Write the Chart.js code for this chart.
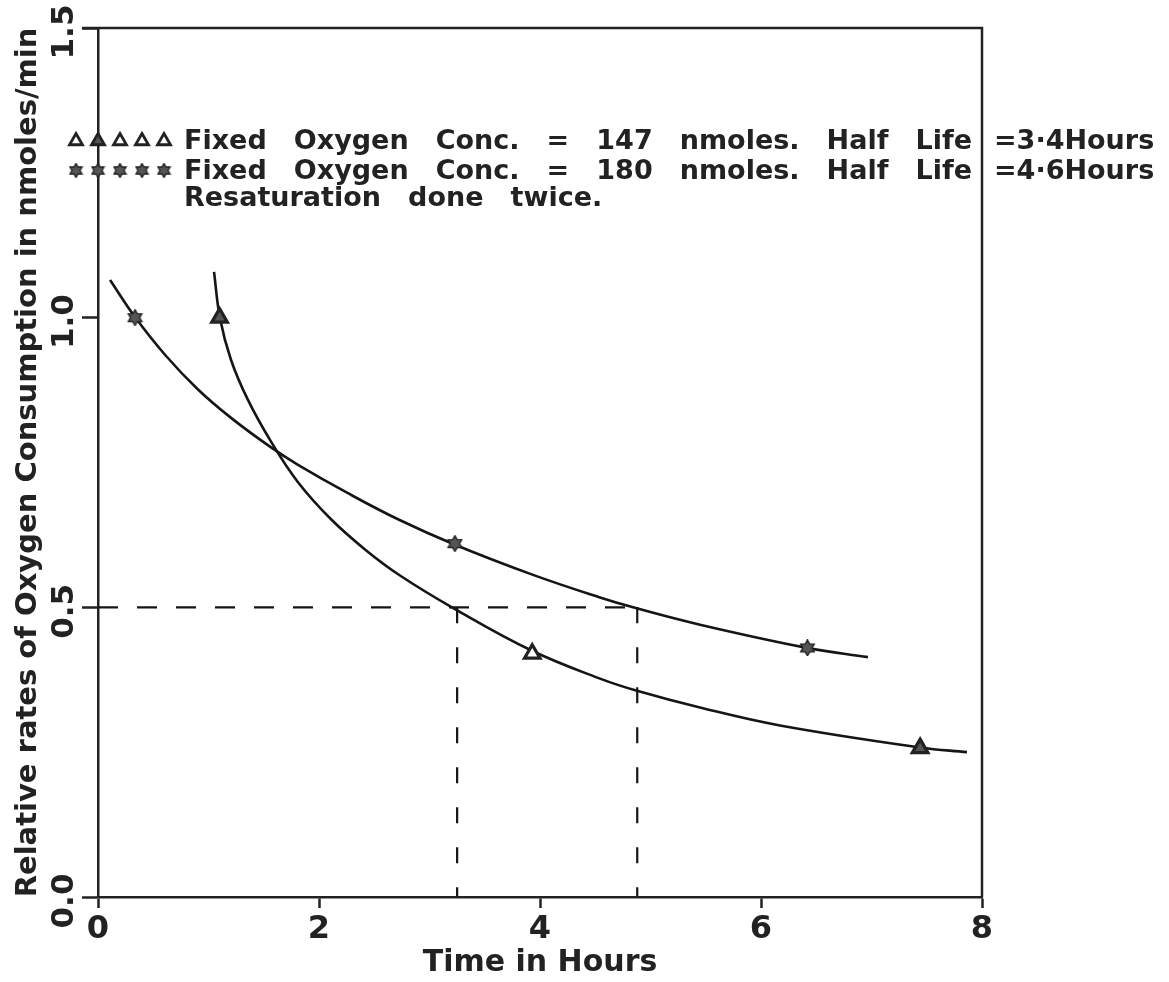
<!DOCTYPE html>
<html><head><meta charset="utf-8">
<script src="https://cdn.jsdelivr.net/npm/chart.js@4/dist/chart.umd.min.js"></script>
<style>html,body{margin:0;padding:0;background:#fff}canvas{display:block}</style>
</head><body>
<canvas id="c" width="1169" height="982"></canvas>
<script>
// ---- data ----
const xTickValues = [0, 2, 4, 6, 8];
const yTickValues = [0, 0.5, 1.0, 1.5];
const yTickLabels = ['0.0', '0.5', '1.0', '1.5'];

// measured points (triangles: 147 nmoles; stars: 180 nmoles)
const triX = [1.10, 3.93, 7.44];
const triY = [1.00, 0.42, 0.257];
const starX = [0.335, 3.23, 6.42];
const starY = [1.00, 0.61, 0.43];

// hand-drawn fitted curves
const triFitX = [1.050, 1.104, 1.204, 1.357, 1.566, 1.810, 2.109, 2.416, 2.733, 3.231, 3.928, 4.543, 4.878, 5.448, 6.172, 7.439, 7.864];
const triFitY = [1.079, 0.999, 0.927, 0.858, 0.786, 0.716, 0.652, 0.600, 0.555, 0.497, 0.425, 0.377, 0.356, 0.327, 0.296, 0.258, 0.250];
const starFitX = [0.109, 0.335, 0.606, 0.905, 1.204, 1.566, 1.810, 2.262, 2.715, 3.231, 3.937, 4.543, 4.842, 5.448, 6.416, 6.968];
const starFitY = [1.065, 1.001, 0.936, 0.876, 0.827, 0.776, 0.746, 0.697, 0.652, 0.608, 0.556, 0.517, 0.500, 0.470, 0.430, 0.414];

// half-life construction lines
const halfX = [0, 4.88];
const halfY = [0.5, 0.5];
const drop1X = [3.25, 3.25];
const drop2X = [4.88, 4.88];
const dropY = [0.5, 0];

const legendWords1 = ['Fixed', 'Oxygen', 'Conc.', '=', '147', 'nmoles.', 'Half', 'Life'];
const legendWords2 = ['Fixed', 'Oxygen', 'Conc.', '=', '180', 'nmoles.', 'Half', 'Life'];
const legendSuffix1 = '=3·4Hours';
const legendSuffix2 = '=4·6Hours';
const legendWords3 = ['Resaturation', 'done', 'twice.'];

const xTitle = 'Time in Hours';
const yTitle = 'Relative rates of Oxygen Consumption in nmoles/min';

// ---- helpers ----
const pts = (xs, ys) => xs.map((v, i) => ({x: v, y: ys[i]}));
const INK = '#222';
const FONT = '"DejaVu Sans", sans-serif';

function makeStar(size) {
  const c = document.createElement('canvas');
  c.width = c.height = size;
  const g = c.getContext('2d');
  g.translate(size / 2, size / 2);
  g.beginPath();
  for (let i = 0; i < 12; i++) {
    const r = i % 2 ? size * 0.27 : size * 0.46;
    const a = -Math.PI / 2 + i * Math.PI / 6;
    g.lineTo(r * Math.cos(a), r * Math.sin(a));
  }
  g.closePath();
  g.fillStyle = '#555';
  g.fill();
  g.lineWidth = 1.4;
  g.strokeStyle = '#222';
  g.stroke();
  return c;
}
const starImg = makeStar(17);
const starImgSmall = makeStar(15);

function drawTri(ctx, cx, cy, r, fill) {
  ctx.beginPath();
  for (let i = 0; i < 3; i++) {
    const a = -Math.PI / 2 + i * 2 * Math.PI / 3;
    const px = cx + r * Math.cos(a), py = cy + r * Math.sin(a);
    if (i === 0) ctx.moveTo(px, py); else ctx.lineTo(px, py);
  }
  ctx.closePath();
  ctx.fillStyle = fill; ctx.fill();
  ctx.lineWidth = 2.8; ctx.strokeStyle = '#222'; ctx.stroke();
}

const decor = {
  id: 'decor',
  afterDraw(chart) {
    const {ctx, chartArea: a, scales: {y}} = chart;
    ctx.save();
    // frame top & right
    ctx.strokeStyle = '#222'; ctx.lineWidth = 2.5;
    ctx.beginPath();
    ctx.moveTo(a.left - 16, a.top); ctx.lineTo(a.right, a.top); ctx.lineTo(a.right, a.bottom);
    ctx.stroke();
    // rotated y tick labels
    ctx.fillStyle = INK;
    ctx.font = 'bold 31px ' + FONT;
    ctx.textAlign = 'center'; ctx.textBaseline = 'middle';
    yTickValues.forEach((v, i) => {
      const py = y.getPixelForValue(v);
      ctx.save();
      ctx.translate(a.left - 33, py + 4);
      ctx.rotate(-Math.PI / 2);
      ctx.fillText(yTickLabels[i], 0, 0);
      ctx.restore();
    });
    // legend block
    ctx.font = 'bold 27px ' + FONT;
    ctx.textAlign = 'left'; ctx.textBaseline = 'alphabetic';
    const x0 = a.left + 86, x1 = a.right - 10;
    const b1 = a.top + 121, b2 = a.top + 151, b3 = a.top + 178;
    const sumW = legendWords1.reduce((s, w) => s + ctx.measureText(w).width, 0);
    const gap = (x1 - x0 - sumW) / (legendWords1.length - 1);
    const drawWords = (words, base, g) => {
      let cx = x0;
      words.forEach(w => { ctx.fillText(w, cx, base); cx += ctx.measureText(w).width + g; });
    };
    drawWords(legendWords1, b1, gap);
    drawWords(legendWords2, b2, gap);
    drawWords(legendWords3, b3, gap);
    ctx.fillText(legendSuffix1, a.right + 12, b1);
    ctx.fillText(legendSuffix2, a.right + 12, b2);
    // legend symbols
    for (let i = 0; i < 5; i++) {
      const sx = a.left - 22 + i * 22;
      drawTri(ctx, sx, b1 - 8, 7.5, i === 1 ? '#555' : '#fff');
      ctx.drawImage(starImgSmall, sx - 7.5, b2 - 16);
    }
    ctx.restore();
  }
};

const lineDs = (data, extra) => Object.assign({
  data, showLine: true, pointRadius: 0, borderColor: '#151515', borderWidth: 2.6,
  fill: false, tension: 0.4
}, extra || {});

new Chart(document.getElementById('c'), {
  type: 'scatter',
  data: {
    datasets: [
      {data: pts(triX, triY), pointStyle: 'triangle', pointRadius: 9, pointBorderWidth: 3.2,
       pointBorderColor: '#222', pointBackgroundColor: ['#555', '#fff', '#555'], showLine: false},
      {data: pts(starX, starY), pointStyle: starImg, pointRadius: 8, showLine: false},
      lineDs(pts(triFitX, triFitY)),
      lineDs(pts(starFitX, starFitY)),
      lineDs(pts(halfX, halfY), {borderDash: [20, 19], borderWidth: 2.2, tension: 0}),
      lineDs(pts(drop1X, dropY), {borderDash: [16, 24], borderWidth: 2.2, tension: 0}),
      lineDs(pts(drop2X, dropY), {borderDash: [16, 24], borderWidth: 2.2, tension: 0})
    ]
  },
  options: {
    responsive: false, animation: false, devicePixelRatio: 1,
    layout: {padding: {top: 28, right: 187, left: 0, bottom: 0}},
    plugins: {legend: {display: false}, tooltip: {enabled: false}},
    scales: {
      x: {
        type: 'linear', min: 0, max: 8,
        afterFit: s => { s.height = 85; },
        ticks: {stepSize: 2, color: INK, font: {family: FONT, size: 32, weight: 'bold'}, padding: 2,
                maxRotation: 0, minRotation: 0,
                callback: v => xTickValues.includes(v) ? String(v) : ''},
        grid: {drawOnChartArea: false, drawTicks: true, tickLength: 11, tickColor: '#222', tickWidth: 2.5},
        border: {display: true, color: '#222', width: 2.5},
        title: {display: true, text: xTitle, color: INK, font: {family: FONT, size: 30, weight: 'bold'}, padding: {top: 0, bottom: 1}}
      },
      y: {
        type: 'linear', min: 0, max: 1.5,
        afterFit: s => { s.width = 98; },
        ticks: {stepSize: 0.5, display: false},
        grid: {drawOnChartArea: false, drawTicks: true, tickLength: 16, tickColor: '#222', tickWidth: 2.5},
        border: {display: true, color: '#222', width: 2.5},
        title: {display: true, text: yTitle, color: INK, font: {family: FONT, size: 29, weight: 'bold'}, padding: {top: 11, bottom: 0}}
      }
    }
  },
  plugins: [decor]
});
</script>
</body></html>
